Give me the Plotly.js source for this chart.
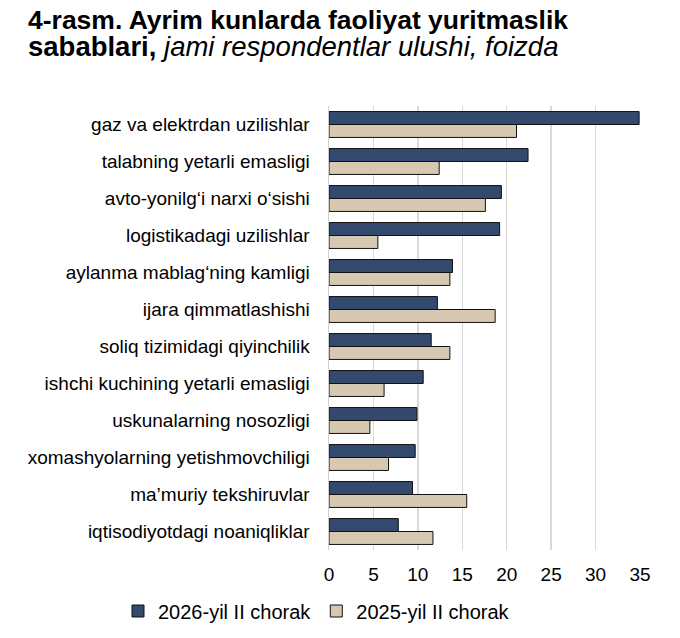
<!DOCTYPE html>
<html>
<head>
<meta charset="utf-8">
<script src="https://cdn.plot.ly/plotly-3.0.1.min.js"></script>
<style>
  html, body { margin: 0; padding: 0; background: #fff; }
  #chart { width: 680px; height: 638px; }
</style>
</head>
<body>
<div id="chart"></div>
<script>
var categories = [
    "gaz va elektrdan uzilishlar",
    "talabning yetarli emasligi",
    "avto-yonilg‘i narxi o‘sishi",
    "logistikadagi uzilishlar",
    "aylanma mablag‘ning kamligi",
    "ijara qimmatlashishi",
    "soliq tizimidagi qiyinchilik",
    "ishchi kuchining yetarli emasligi",
    "uskunalarning nosozligi",
    "xomashyolarning yetishmovchiligi",
    "ma’muriy tekshiruvlar",
    "iqtisodiyotdagi noaniqliklar"
];

var values2026 = [34.9, 22.4, 19.4, 19.2, 13.9, 12.2, 11.5, 10.6, 9.9, 9.7, 9.4, 7.8];
var values2025 = [21.1, 12.4, 17.6, 5.5, 13.6, 18.7, 13.6, 6.2, 4.6, 6.7, 15.5, 11.7];

var xTicks = [0, 5, 10, 15, 20, 25, 30, 35];

var font = 'Liberation Sans, Arial, sans-serif';

// plot area in pixels, used to place title lines and legend
var plotLeft = 329, plotRight = 640, plotTop = 106, plotBottom = 550;
function px2x(px) { return (px - plotLeft) / (plotRight - plotLeft); }
function px2y(py) { return (plotBottom - py) / (plotBottom - plotTop); }

var trace2026 = {
    type: 'bar',
    orientation: 'h',
    name: '2026-yil II chorak',
    y: categories,
    x: values2026,
    marker: { color: '#34496e', line: { color: '#111', width: 1 } }
};

var trace2025 = {
    type: 'bar',
    orientation: 'h',
    name: '2025-yil II chorak',
    y: categories,
    x: values2025,
    marker: { color: '#d6c8b1', line: { color: '#111', width: 1 } }
};

var layout = {
    width: 680,
    height: 638,
    margin: {
        l: plotLeft, r: 680 - plotRight, t: plotTop, b: 638 - plotBottom,
        pad: 0, autoexpand: false
    },
    paper_bgcolor: '#fff',
    plot_bgcolor: '#fff',
    font: { family: font, color: '#000', size: 19 },
    barmode: 'group',
    bargap: 0.3,
    bargroupgap: 0,
    xaxis: {
        range: [0, 35],
        tickvals: xTicks,
        ticktext: xTicks.map(String),
        showgrid: true,
        gridcolor: '#d9d9d9',
        gridwidth: 1.5,
        zeroline: false,
        showline: false,
        ticks: 'outside',
        ticklen: 7,
        tickcolor: 'rgba(0,0,0,0)',
        tickfont: { size: 19 },
        fixedrange: true
    },
    yaxis: {
        autorange: 'reversed',
        showgrid: false,
        zeroline: false,
        showline: true,
        linecolor: '#d0d0d0',
        linewidth: 1.5,
        ticks: 'outside',
        ticklen: 14,
        tickcolor: 'rgba(0,0,0,0)',
        tickfont: { size: 19 },
        fixedrange: true
    },
    annotations: [
        {
            text: '<b>4-rasm. Ayrim kunlarda faoliyat yuritmaslik</b>',
            xref: 'paper', yref: 'paper',
            x: px2x(26), y: px2y(20),
            xanchor: 'left', yanchor: 'middle',
            showarrow: false,
            font: { family: font, size: 26.5, color: '#000' }
        },
        {
            text: '<b>sabablari,</b> <i>jami respondentlar ulushi, foizda</i>',
            xref: 'paper', yref: 'paper',
            x: px2x(26), y: px2y(46),
            xanchor: 'left', yanchor: 'middle',
            showarrow: false,
            font: { family: font, size: 27.5, color: '#000' }
        }
    ],
    showlegend: true,
    legend: {
        orientation: 'h',
        xref: 'paper',
        yref: 'paper',
        x: px2x(118),
        xanchor: 'left',
        y: px2y(611),
        yanchor: 'middle',
        font: { size: 20 },
        traceorder: 'normal',
        bgcolor: 'rgba(0,0,0,0)'
    }
};

Plotly.newPlot('chart', [trace2026, trace2025], layout, { displayModeBar: false, staticPlot: true });
</script>
</body>
</html>
